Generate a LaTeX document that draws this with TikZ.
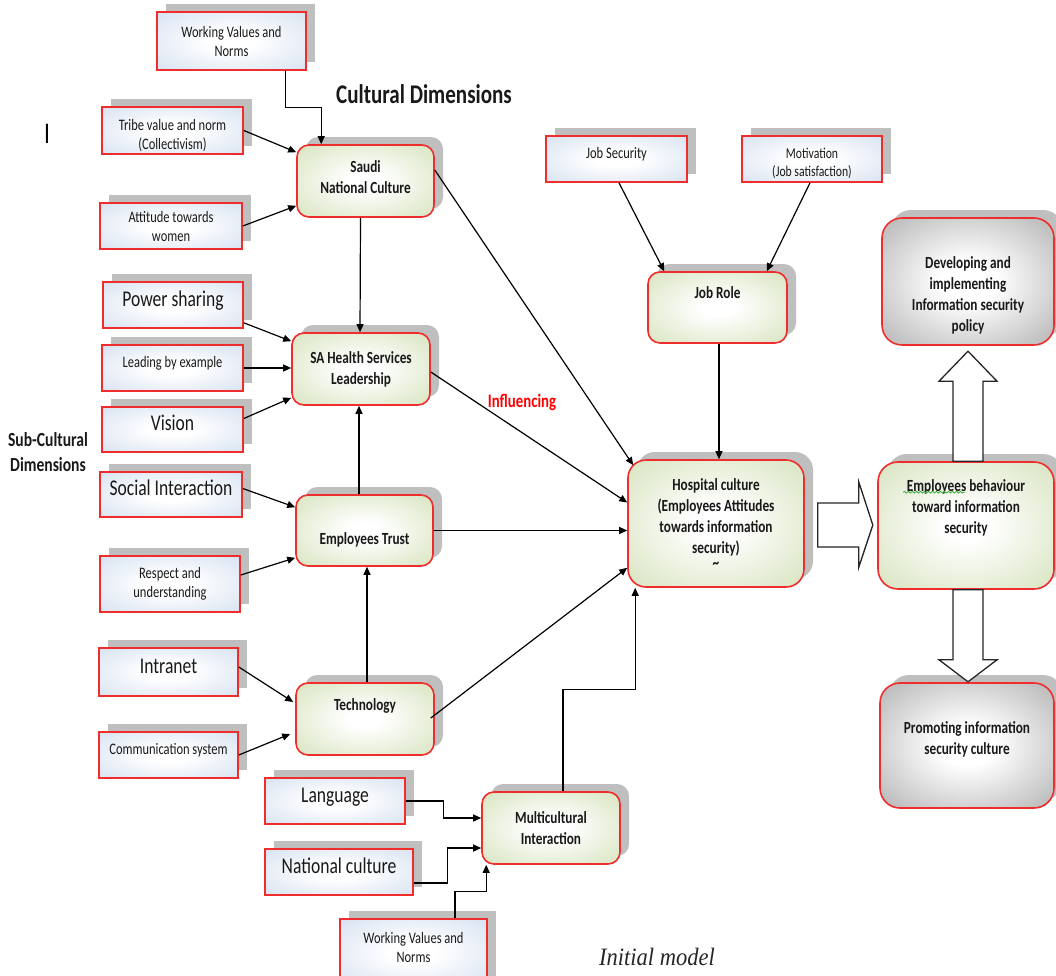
\documentclass[tikz,border=0pt]{standalone}
\usepackage{fontspec}
\setmainfont{Carlito}[FakeStretch=0.78]
\newfontfamily\capfont{Liberation Serif}[FakeStretch=0.9]
\usetikzlibrary{shadows,arrows.meta,calc,decorations.pathmorphing}
\definecolor{boxred}{RGB}{240,45,45}
\definecolor{boxblue}{RGB}{212,224,240}
\definecolor{boxgreen}{RGB}{210,224,182}
\definecolor{boxgray}{RGB}{158,158,158}
\definecolor{shadowgray}{RGB}{191,191,191}
\definecolor{spellgreen}{RGB}{60,170,60}
\pgfdeclareradialshading{blueglow}{\pgfpointorigin}{color(0bp)=(white); color(8bp)=(white); color(38bp)=(boxblue); color(100bp)=(boxblue)}
\pgfdeclareradialshading{greenglow}{\pgfpointorigin}{color(0bp)=(white); color(6bp)=(white); color(40bp)=(boxgreen); color(100bp)=(boxgreen)}
\pgfdeclareradialshading{grayglow}{\pgfpointorigin}{color(0bp)=(white); color(8bp)=(white); color(44bp)=(boxgray); color(100bp)=(boxgray)}
\tikzset{
  shad/.style={drop shadow={shadow xshift=9pt,shadow yshift=8pt,fill=shadowgray,opacity=1}},
  boxbase/.style={shad,draw=boxred,line width=1.6pt,align=center,inner sep=1pt,text=black!90},
  bbox/.style={boxbase,shade,shading=blueglow,font=\fontsize{16}{19}\selectfont},
  bigone/.style={font=\fontsize{22.5}{27}\selectfont,text height=16pt,text depth=14pt},
  smallone/.style={text height=12pt,text depth=14pt},
  gbox/.style={boxbase,rounded corners=12pt,shade,shading=greenglow,font=\fontsize{17}{21}\selectfont\bfseries},
  ybox/.style={boxbase,rounded corners=20pt,shade,shading=grayglow,font=\fontsize{17}{21}\selectfont\bfseries},
  arr/.style={-{Triangle[length=8pt,width=7pt]},line width=1.2pt},
  blk/.style={draw=black!85,fill=white,line width=1.3pt,line join=miter},
  squiggle/.style={draw=spellgreen,line width=0.8pt,decorate,decoration={snake,amplitude=0.9pt,segment length=4pt}},
}
\begin{document}
\begin{tikzpicture}[x=1pt,y=-1pt]
\useasboundingbox (0,0) rectangle (1056,975);

% blue input boxes
\node[bbox,minimum width=149pt,minimum height=58pt] (wvtop) at (231.5,41) {Working Values and\\Norms};
\node[bbox,minimum width=141pt,minimum height=47pt] (tribe) at (172.5,130.5) {\mbox{}\\[2pt]Tribe value and norm\\(Collectivism)};
\node[bbox,minimum width=142pt,minimum height=46pt] (attitude) at (171,226) {Attitude towards\\women};
\node[bbox,bigone,minimum width=140pt,minimum height=46pt] (power) at (173,305) {Power sharing};
\node[bbox,smallone,minimum width=141pt,minimum height=46pt] (leading) at (172.5,368) {Leading by example};
\node[bbox,bigone,minimum width=141pt,minimum height=45pt] (vision) at (172.5,429.5) {Vision};
\node[bbox,bigone,minimum width=142pt,minimum height=45pt] (social) at (171,494.5) {Social Interaction};
\node[bbox,minimum width=140pt,minimum height=56pt] (respect) at (170,584) {Respect and\\understanding};
\node[bbox,bigone,minimum width=139pt,minimum height=48pt] (intranet) at (168.5,672) {Intranet};
\node[bbox,smallone,minimum width=139pt,minimum height=46pt] (comm) at (168.5,755) {Communication system};
\node[bbox,bigone,minimum width=140pt,minimum height=46pt] (language) at (335,801) {Language};
\node[bbox,bigone,minimum width=148pt,minimum height=46pt] (natcult) at (339,872) {National culture};
\node[bbox,minimum width=147pt,minimum height=66pt] (wvbot) at (413.5,952) {Working Values and\\Norms\\[-9pt]\mbox{}};
\node[bbox,smallone,minimum width=141pt,minimum height=46pt] (jobsec) at (616.5,159) {Job Security};
\node[bbox,font=\fontsize{15}{18}\selectfont,minimum width=140pt,minimum height=46pt] (motiv) at (812,159) {\mbox{}\\[1pt]Motivation\\(Job satisfaction)};

% green construct boxes
\node[gbox,minimum width=137pt,minimum height=72pt] (saudi) at (365.5,181) {Saudi\\National Culture\\[-13pt]\mbox{}};
\node[gbox,minimum width=138pt,minimum height=72pt] (leader) at (361,369) {SA Health Services\\Leadership};
\node[gbox,minimum width=137pt,minimum height=71pt] (trust) at (364.5,530.5) {\mbox{}\\[10pt]Employees Trust};
\node[gbox,minimum width=138pt,minimum height=72pt] (tech) at (365,719) {Technology\\[8pt]\mbox{}};
\node[gbox,minimum width=138pt,minimum height=72pt] (multi) at (551,828) {Multicultural\\Interaction};
\node[gbox,minimum width=139pt,minimum height=71pt] (jobrole) at (717.5,307.5) {Job Role\\[9pt]\mbox{}};
\node[gbox,rounded corners=18pt,minimum width=176pt,minimum height=127pt] (hosp) at (716,523.5) {Hospital culture\\(Employees Attitudes\\towards information\\security)\\[-6pt]\textasciitilde};
\node[gbox,rounded corners=20pt,minimum width=176pt,minimum height=127pt] (behav) at (966,525.5) {Employees behaviour\\toward information\\security\\[17pt]\mbox{}};

% gray outcome boxes
\node[ybox,minimum width=172pt,minimum height=127pt] (devel) at (968,281.5) {\mbox{}\\[18pt]Developing and\\implementing\\Information security\\policy};
\node[ybox,minimum width=174pt,minimum height=125pt] (promo) at (967,745.5) {Promoting information\\security culture\\[-7pt]\mbox{}};

% spell-check underline under "Employees"
\coordinate (sqa) at ($(behav.north west)+(26,31)$);
\coordinate (sqb) at ($(behav.north west)+(88,31)$);
\draw[squiggle] (sqa) -- (sqb);

% free labels
\node[font=\fontsize{27}{27}\selectfont\bfseries,text=black!90] (culturaldim) at (424,94) {Cultural Dimensions};
\node[font=\fontsize{20}{25}\selectfont\bfseries,align=center,text=black!90] (subcult) at (48,452) {Sub-Cultural\\Dimensions};
\node[font=\fontsize{19}{19}\selectfont\bfseries,text=red] (influ) at (522,402) {Influencing};
\node[font=\capfont\itshape\fontsize{25}{25}\selectfont,text=black!85] (initial) at (657,957) {Initial model};
\node[font=\fontsize{30}{30}\selectfont] (cursor) at (47,134) {I};

% connectors
\draw[arr] ($(wvtop.south east)+(-21,0)$) -- ++(0,37) -| ($(saudi.north west)+(25,0)$);
\draw[arr] (tribe.east) -- ($(saudi.north west)+(0,8)$);
\draw[arr] (attitude.east) -- ($(saudi.south west)+(0,-12)$);
\draw[arr] ($(saudi.south)+(-5,0)$) -- ($(leader.north)+(-1,0)$);
\draw[arr] ($(saudi.east)+(0,-11)$) -- ($(hosp.north west)+(6,6)$);
\draw[arr] ($(power.south east)+(0,-6)$) -- ($(leader.north west)+(0,9)$);
\draw[arr] (leading.east) -- (leading.east -| leader.west);
\draw[arr] ($(vision.east)+(0,-11)$) -- ($(leader.south west)+(0,-8)$);
\draw[arr] ($(leader.east)+(0,3)$) -- ($(hosp.west)+(0,-21)$);
\draw[arr] ($(social.east)+(0,-6)$) -- ($(trust.north west)+(0,13)$);
\draw[arr] ($(respect.east)+(0,-9)$) -- ($(trust.south west)+(0,-9)$);
\draw[arr] ($(trust.north)+(-5.5,0)$) -- ($(leader.south)+(-2,0)$);
\draw[arr] (trust.east) -- (trust.east -| hosp.west);
\draw[arr] ($(tech.north)+(2,0)$) -- ($(trust.south)+(2.5,0)$);
\draw[arr] ($(intranet.east)+(0,-5)$) -- ($(tech.west)+(-2,-17)$);
\draw[arr] (comm.east) -- ($(tech.west)+(-5,15)$);
\draw[arr] ($(tech.east)+(-4,-1)$) -- ($(hosp.south west)+(0,-20)$);
\draw[arr] ($(multi.north)+(12,0)$) -- ++(0,-102) -| ($(hosp.south west)+(8,0)$);
\draw[arr] (language.east) -- ++(38,0) |- ($(multi.west)+(0,-10)$);
\draw[arr] ($(natcult.east)+(0,11)$) -- ++(34,0) |- ($(multi.west)+(0,20)$);
\draw[arr] ($(wvbot.north)+(41.5,0)$) -- ++(0,-27) -| ($(multi.south west)+(5,0)$);
\draw[arr] ($(jobsec.south)+(2.5,0)$) -- ($(jobrole.north west)+(17,0)$);
\draw[arr] ($(motiv.south)+(-2,0)$) -- ($(jobrole.north east)+(-21,0)$);
\draw[arr] ($(jobrole.south)+(1.5,0)$) -- ($(hosp.north)+(3,0)$);

% block arrows
\draw[blk] ($(hosp.east)+(13,-20.5)$) -- ++(41,0) -- ++(0,-21) -- ++(14,43) -- ++(-14,42) -- ++(0,-20) -- ++(-41,0) -- cycle;
\draw[blk] ($(behav.north)+(-13,0)$) -- ++(0,-80) -- ++(-14,0) -- ++(29,-30) -- ++(29,30) -- ++(-14,0) -- ++(0,80) -- cycle;
\draw[blk] ($(behav.south)+(-13,0)$) -- ++(0,70) -- ++(-14,0) -- ++(29,22) -- ++(29,-22) -- ++(-14,0) -- ++(0,-70) -- cycle;
\end{tikzpicture}
\end{document}
